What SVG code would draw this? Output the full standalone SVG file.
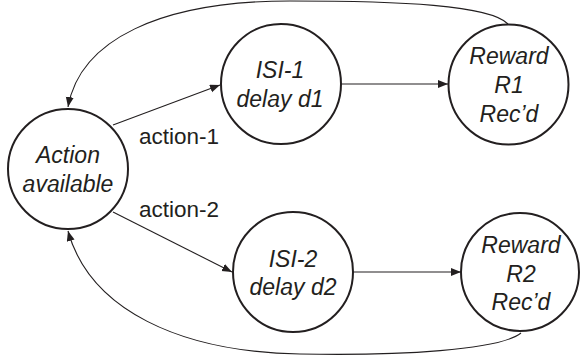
<svg xmlns="http://www.w3.org/2000/svg" width="580" height="355" viewBox="0 0 580 355">
<style>
.node{fill:#fff;stroke:#231f20;stroke-width:2}
.nt{font-family:"Liberation Sans",Arial,sans-serif;font-style:italic;font-size:23px;fill:#231f20;text-anchor:middle}
.lbl{font-family:"Liberation Sans",Arial,sans-serif;font-size:22.5px;fill:#231f20}
.edge{fill:none;stroke:#231f20;stroke-width:1.1}
</style>
<defs>
<marker id="arr" markerUnits="userSpaceOnUse" markerWidth="11" markerHeight="9" refX="10" refY="4" orient="auto">
<path d="M0,0 L10,4 L0,8 z" fill="#231f20"/>
</marker>
</defs>
<rect width="580" height="355" fill="#fff"/>
<g id="connectors">
<line class="edge" x1="113" y1="125" x2="220" y2="85" marker-end="url(#arr)"/>
<line class="edge" x1="341" y1="84" x2="448" y2="84" marker-end="url(#arr)"/>
<line class="edge" x1="113" y1="212" x2="232" y2="272" marker-end="url(#arr)"/>
<line class="edge" x1="353" y1="272" x2="461" y2="272" marker-end="url(#arr)"/>
<path class="edge" d="M508,24 C490,5 400,1 290,1 C160,1 80,40 68,107" marker-end="url(#arr)"/>
<path class="edge" d="M521,333 C500,350 400,356 300,354 C180,352 90,310 68,231" marker-end="url(#arr)"/>
<text class="lbl" x="139" y="144">action-1</text>
<text class="lbl" x="139" y="217">action-2</text>
</g>
<g id="action-available">
<circle class="node" cx="68" cy="169" r="60"/>
<text class="nt" x="68" y="163">Action</text>
<text class="nt" x="68" y="192">available</text>
</g>
<g id="isi-1">
<circle class="node" cx="281" cy="84" r="60"/>
<text class="nt" x="280" y="78">ISI-1</text>
<text class="nt" x="280" y="107">delay d1</text>
</g>
<g id="reward-r1">
<circle class="node" cx="508.5" cy="84.5" r="60"/>
<text class="nt" x="509" y="64">Reward</text>
<text class="nt" x="509" y="93">R1</text>
<text class="nt" x="509" y="122">Rec’d</text>
</g>
<g id="isi-2">
<circle class="node" cx="293" cy="272" r="60"/>
<text class="nt" x="293" y="267">ISI-2</text>
<text class="nt" x="293" y="295">delay d2</text>
</g>
<g id="reward-r2">
<circle class="node" cx="520" cy="272" r="59"/>
<text class="nt" x="521" y="253">Reward</text>
<text class="nt" x="521" y="282">R2</text>
<text class="nt" x="521" y="310">Rec’d</text>
</g>
</svg>
